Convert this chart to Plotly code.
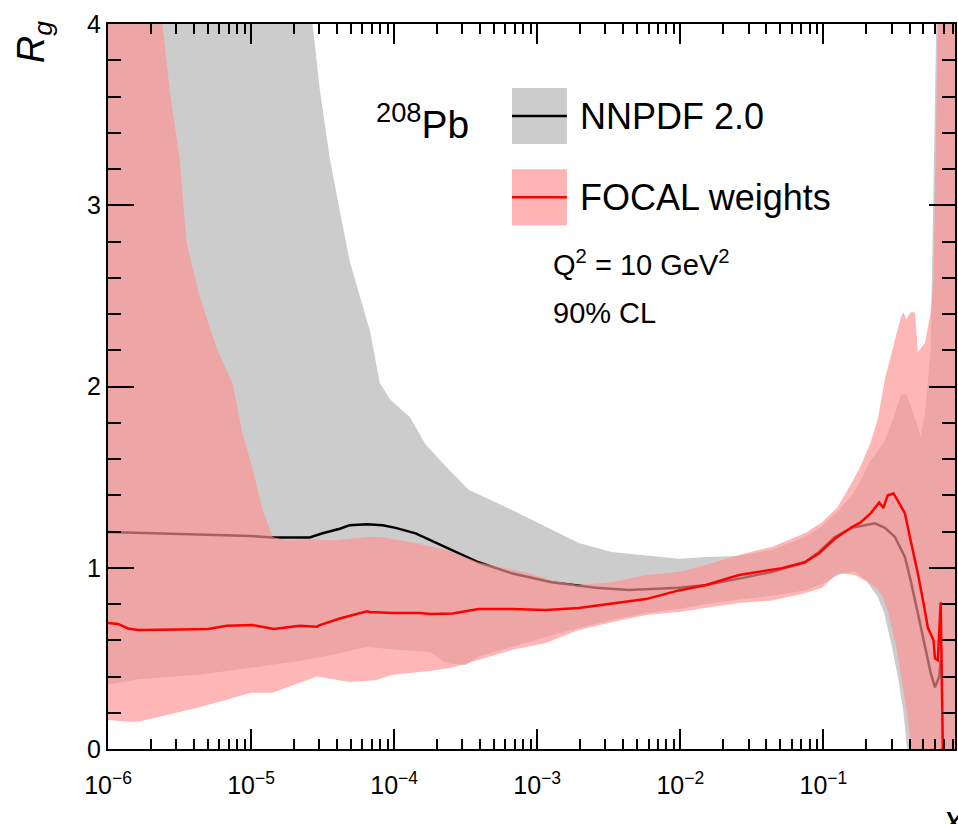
import numpy as np
import plotly.graph_objects as go

# ---- NNPDF 2.0 nuclear gluon ratio (central value), x given as log10(x)
nn_lgx = [-6.00, -5.71, -5.50, -5.00, -4.85, -4.66, -4.59, -4.50, -4.38, -4.31, -4.19,
          -4.08, -3.99, -3.85, -3.64, -3.41, -3.18, -2.90, -2.59, -2.36, -2.01, -1.82,
          -1.59, -1.36, -1.13, -1.03, -0.92, -0.80, -0.71, -0.64, -0.57, -0.50, -0.43,
          -0.39, -0.34, -0.29, -0.25, -0.22, -0.19, -0.18]
nn_cen = [1.197, 1.19, 1.185, 1.175, 1.167, 1.165, 1.167, 1.19, 1.215, 1.235, 1.24,
          1.235, 1.22, 1.19, 1.115, 1.03, 0.97, 0.92, 0.89, 0.877, 0.89, 0.905,
          0.94, 0.977, 1.03, 1.087, 1.17, 1.22, 1.235, 1.245, 1.22, 1.17, 1.06,
          0.93, 0.75, 0.563, 0.42, 0.34, 0.40, 0.49]

# NNPDF 90% CL band edges
nn_up_lgx = [-6.00, -5.00, -4.62, -4.57, -4.52, -4.45, -4.38, -4.31, -4.24, -4.17, -4.10,
             -4.03, -3.89, -3.78, -3.64, -3.48, -3.18, -2.94, -2.71, -2.48, -2.24, -2.01,
             -1.82, -1.59, -1.36, -1.13, -1.01, -0.90, -0.80, -0.74, -0.67, -0.57, -0.50,
             -0.46, -0.42, -0.39, -0.34, -0.32, -0.29, -0.25, -0.23, -0.20, -0.07]
nn_up = [6.0, 5.0, 4.2, 4.0, 3.64, 3.26, 2.97, 2.69, 2.50, 2.31, 2.02,
         1.93, 1.83, 1.68, 1.56, 1.43, 1.32, 1.225, 1.137, 1.087, 1.07, 1.05,
         1.06, 1.065, 1.10, 1.17, 1.23, 1.31, 1.40, 1.48, 1.59, 1.70, 1.85,
         1.95, 1.96, 1.89, 1.78, 1.72, 1.85, 2.2, 3.0, 4.5, 6.0]
nn_lo_lgx = [-6.00, -5.79, -5.36, -5.00, -4.66, -4.43, -4.19, -3.96, -3.75, -3.64, -3.50,
             -3.41, -3.18, -2.94, -2.71, -2.48, -2.24, -2.01, -1.82, -1.59, -1.36, -1.13,
             -1.01, -0.92, -0.87, -0.78, -0.70, -0.62, -0.575, -0.52, -0.475, -0.44, -0.415,
             -0.40, -0.07]
nn_lo = [0.355, 0.385, 0.41, 0.45, 0.485, 0.52, 0.563, 0.546, 0.535, 0.475, 0.463,
         0.51, 0.563, 0.618, 0.668, 0.712, 0.75, 0.772, 0.80, 0.825, 0.845, 0.875,
         0.91, 0.95, 0.97, 0.98, 0.93, 0.84, 0.75, 0.56, 0.38, 0.20, 0.0,
         -0.5, -0.5]

# ---- FOCAL-reweighted result (central value)
fc_lgx = [-6.00, -5.93, -5.86, -5.79, -5.50, -5.30, -5.17, -4.99, -4.84, -4.66, -4.54,
          -4.52, -4.38, -4.29, -4.19, -4.17, -4.01, -3.82, -3.75, -3.59, -3.41, -3.18,
          -2.94, -2.71, -2.48, -2.24, -2.01, -1.82, -1.59, -1.43, -1.29, -1.13, -1.03,
          -0.92, -0.80, -0.74, -0.67, -0.61, -0.58, -0.55, -0.51, -0.48, -0.43, -0.39,
          -0.34, -0.30, -0.27, -0.23, -0.22, -0.20, -0.18, -0.165]
fc_cen = [0.695, 0.69, 0.665, 0.657, 0.66, 0.662, 0.68, 0.684, 0.662, 0.68, 0.675,
          0.684, 0.72, 0.74, 0.76, 0.756, 0.75, 0.75, 0.745, 0.748, 0.772, 0.772,
          0.767, 0.778, 0.80, 0.827, 0.875, 0.905, 0.96, 0.982, 0.998, 1.03, 1.08,
          1.16, 1.225, 1.25, 1.30, 1.36, 1.33, 1.40, 1.41, 1.37, 1.30, 1.15,
          0.97, 0.805, 0.67, 0.60, 0.50, 0.49, 0.81, 0.0]

# FOCAL 90% CL band edges
fc_up_lgx = [-6.00, -5.62, -5.57, -5.50, -5.45, -5.36, -5.24, -5.13, -5.06, -4.99, -4.92,
             -4.85, -4.75, -4.59, -4.43, -4.19, -4.10, -3.87, -3.64, -3.41, -3.06, -2.90,
             -2.71, -2.48, -2.24, -2.01, -1.82, -1.59, -1.36, -1.13, -1.01, -0.90, -0.80,
             -0.74, -0.67, -0.62, -0.57, -0.51, -0.46, -0.44, -0.42, -0.39, -0.36, -0.34,
             -0.29, -0.25, -0.23, -0.20, -0.18, -0.07]
fc_up = [6.0, 4.0, 3.64, 3.26, 2.79, 2.50, 2.21, 2.02, 1.74, 1.55, 1.32,
         1.17, 1.15, 1.16, 1.15, 1.17, 1.17, 1.14, 1.10, 1.03, 0.97, 0.93,
         0.905, 0.92, 0.96, 0.977, 1.015, 1.07, 1.115, 1.19, 1.25, 1.335, 1.47,
         1.56, 1.69, 1.82, 2.04, 2.22, 2.38, 2.41, 2.37, 2.41, 2.41, 2.19,
         2.24, 2.41, 2.59, 4.0, 6.0, 6.0]
fc_lo_lgx = [-6.00, -5.86, -5.79, -5.36, -5.00, -4.85, -4.54, -4.31, -4.13, -4.01, -3.75,
             -3.59, -3.41, -3.18, -2.94, -2.71, -2.48, -2.24, -2.01, -1.82, -1.59, -1.36,
             -1.13, -1.01, -0.90, -0.78, -0.69, -0.62, -0.585, -0.545, -0.49, -0.45, -0.415,
             -0.385, -0.36, -0.07]
fc_lo = [0.16, 0.15, 0.15, 0.23, 0.31, 0.31, 0.40, 0.37, 0.38, 0.41, 0.43,
         0.45, 0.49, 0.546, 0.585, 0.657, 0.70, 0.74, 0.756, 0.78, 0.805, 0.82,
         0.86, 0.89, 0.97, 0.96, 0.92, 0.88, 0.84, 0.75, 0.563, 0.38, 0.20,
         0.01, -0.5, -0.5]

x_ticks = [1e-6, 1e-5, 1e-4, 1e-3, 1e-2, 1e-1]
x_tick_text = ["10<sup>\u22126</sup>", "10<sup>\u22125</sup>", "10<sup>\u22124</sup>",
               "10<sup>\u22123</sup>", "10<sup>\u22122</sup>", "10<sup>\u22121</sup>"]

GRAY = "rgb(204,204,204)"
PINK = "rgba(255,144,144,0.66)"
FONT = "Liberation Sans, Arial, Helvetica, sans-serif"


def xs(lg):
    return np.power(10.0, np.asarray(lg, dtype=float))


def band(lgx_up, up, lgx_lo, lo):
    bx = np.concatenate([xs(lgx_up), xs(lgx_lo)[::-1]])
    by = np.concatenate([np.asarray(up, float), np.asarray(lo, float)[::-1]])
    return bx, by


fig = go.Figure()

gx, gy = band(nn_up_lgx, nn_up, nn_lo_lgx, nn_lo)
fig.add_trace(go.Scatter(x=gx, y=gy, fill="toself", fillcolor=GRAY, mode="lines",
                         line=dict(width=0), hoverinfo="skip", showlegend=False))
fig.add_trace(go.Scatter(x=xs(nn_lgx), y=nn_cen, mode="lines",
                         line=dict(color="black", width=2.5), showlegend=False))
px_, py_ = band(fc_up_lgx, fc_up, fc_lo_lgx, fc_lo)
fig.add_trace(go.Scatter(x=px_, y=py_, fill="toself", fillcolor=PINK, mode="lines",
                         line=dict(width=0), hoverinfo="skip", showlegend=False))
fig.add_trace(go.Scatter(x=xs(fc_lgx), y=fc_cen, mode="lines",
                         line=dict(color="rgb(255,0,0)", width=2.5), showlegend=False))

fig.update_xaxes(
    type="log", range=[-6, -0.08],
    tickmode="array", tickvals=x_ticks, ticktext=x_tick_text,
    ticks="inside", ticklen=20, tickwidth=2, tickcolor="black",
    minor=dict(tickmode="array",
               tickvals=[m * 10.0 ** e for e in range(-6, 0) for m in range(2, 10)],
               ticks="inside", ticklen=10, tickwidth=2, tickcolor="black"),
    showline=True, linecolor="black", linewidth=2, mirror="ticks",
    showgrid=False, zeroline=False,
    tickfont=dict(family=FONT, size=25, color="black"), ticklabelstandoff=13,
)
fig.update_yaxes(
    range=[0, 4], tickmode="linear", tick0=0, dtick=1,
    ticks="inside", ticklen=26, tickwidth=2, tickcolor="black",
    minor=dict(dtick=0.2, ticks="inside", ticklen=13, tickwidth=2, tickcolor="black"),
    showline=True, linecolor="black", linewidth=2, mirror="ticks",
    showgrid=False, zeroline=False,
    tickfont=dict(family=FONT, size=25, color="black"),
)

# legend boxes with the central-value line through each
legend_rows = [("NNPDF 2.0", GRAY, "black", 0.873),
               ("FOCAL weights", "rgb(255,180,180)", "rgb(255,0,0)", 0.761)]
shapes = []
annotations = []
for label, fill, lc, yc in legend_rows:
    shapes.append(dict(type="rect", xref="paper", yref="paper",
                       x0=0.477, x1=0.5418, y0=yc - 0.0386, y1=yc + 0.0386,
                       fillcolor=fill, line=dict(width=0), layer="above"))
    shapes.append(dict(type="line", xref="paper", yref="paper",
                       x0=0.477, x1=0.5418, y0=yc, y1=yc,
                       line=dict(color=lc, width=2.5), layer="above"))
    annotations.append(dict(text=label, xref="paper", yref="paper", x=0.5545, y=yc,
                            xanchor="left", yanchor="middle", showarrow=False,
                            font=dict(family=FONT, size=36, color="black")))

annotations += [
    dict(text="<sup>208</sup>Pb", xref="paper", yref="paper", x=0.3135, y=0.866,
         xanchor="left", yanchor="middle", showarrow=False,
         font=dict(family=FONT, size=39, color="black")),
    dict(text="Q<sup>2</sup> = 10 GeV<sup>2</sup>", xref="paper", yref="paper",
         x=0.5225, y=0.670, xanchor="left", yanchor="middle", showarrow=False,
         font=dict(family=FONT, size=29, color="black")),
    dict(text="90% CL", xref="paper", yref="paper", x=0.5225, y=0.602,
         xanchor="left", yanchor="middle", showarrow=False,
         font=dict(family=FONT, size=29, color="black")),
    dict(text="<i>R<sub>g</sub></i>", xref="paper", yref="paper", x=-0.087, y=1.007,
         xanchor="center", yanchor="top", textangle=-90, showarrow=False,
         font=dict(family=FONT, size=38, color="black")),
    dict(text="<i>x</i>", xref="paper", yref="paper", x=0.982, y=-0.066,
         xanchor="left", yanchor="top", showarrow=False,
         font=dict(family=FONT, size=38, color="black")),
]

fig.update_layout(
    width=958, height=824,
    margin=dict(l=108, r=1, t=24, b=75),
    paper_bgcolor="white", plot_bgcolor="white",
    shapes=shapes, annotations=annotations, showlegend=False,
)

fig.write_html("out.html")
